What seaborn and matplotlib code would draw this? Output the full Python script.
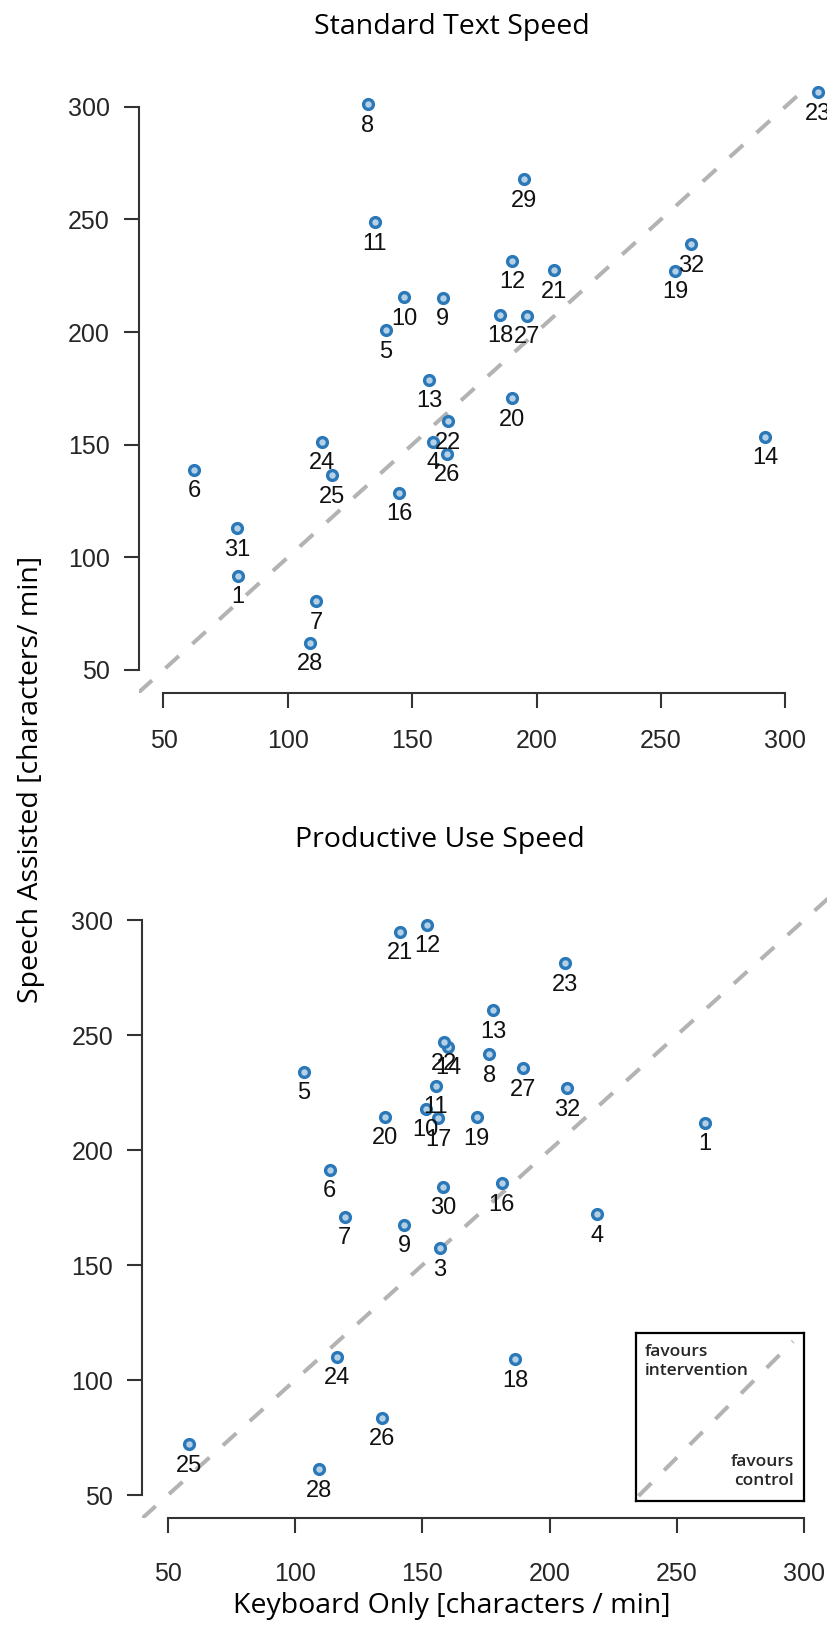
import numpy as np
import pandas as pd
import matplotlib
matplotlib.use('Agg')
import matplotlib.pyplot as plt
import seaborn as sns

sns.set_style('white')
plt.rcParams['font.family'] = ['Liberation Sans', 'DejaVu Sans']

# participant ids and speeds (characters / min)
top_ids = [1, 4, 5, 6, 7, 8, 9, 10, 11, 12, 13, 14, 16, 18, 19, 20, 21, 22,
           23, 24, 25, 26, 27, 28, 29, 31, 32]
top_keyboard = [79.9, 158.5, 139.5, 62.4, 111.3, 132.2, 162.3, 146.7, 134.9,
                190.2, 156.9, 291.8, 144.8, 185.3, 255.7, 190.0, 207.0, 164.3,
                313.3, 113.9, 117.7, 164.1, 196.0, 109.0, 194.9, 79.7, 262.1]
top_speech = [91.9, 151.3, 200.9, 138.9, 80.6, 301.1, 215.3, 215.4, 248.7,
              231.7, 178.8, 153.6, 128.6, 207.6, 227.2, 170.7, 227.5, 160.5,
              306.4, 151.2, 136.4, 145.9, 207.3, 62.1, 267.9, 112.9, 238.9]

bottom_ids = [1, 3, 4, 5, 6, 7, 8, 9, 10, 11, 12, 13, 14, 16, 17, 18, 19, 20,
              21, 22, 23, 24, 25, 26, 27, 28, 30, 32]
bottom_keyboard = [261.0, 156.9, 218.5, 103.6, 113.7, 119.5, 176.3, 142.8,
                   151.4, 155.2, 152.0, 177.9, 160.2, 181.2, 156.3, 186.4,
                   171.3, 135.3, 141.2, 158.5, 206.0, 116.6, 58.2, 134.2,
                   189.4, 109.4, 158.2, 206.9]
bottom_speech = [211.9, 157.3, 172.2, 234.1, 191.4, 171.1, 241.6, 167.6,
                 217.9, 228.0, 298.0, 260.9, 244.9, 185.6, 213.8, 109.1,
                 214.3, 214.5, 294.9, 246.9, 281.2, 110.2, 72.3, 83.7,
                 235.6, 61.3, 184.1, 226.9]

ticks = [50, 100, 150, 200, 250, 300]
axis_lim = (40, 310)
key_diag = [0.015, 0.935]

EDGE = '#2A78B8'
FILL = '#B4D0E6'
DASH = '#B3B3B3'
AXC = '#333333'
LABEL_FONT = ['Open Sans', 'DejaVu Sans']

W, H = 827, 1644
fig = plt.figure(figsize=(W / 100, H / 100), dpi=100)


def px_axes(left, top, right, bottom):
    return fig.add_axes([left / W, 1 - bottom / H, (right - left) / W, (bottom - top) / H])


def draw_panel(ax, ids, kb, sp, xpad):
    df = pd.DataFrame({'id': ids, 'keyboard': kb, 'speech': sp})
    ax.axline((0, 0), slope=1, color=DASH, lw=2.9, ls=(0, (4.5, 4.5)), zorder=1)
    sns.scatterplot(data=df, x='keyboard', y='speech', ax=ax, s=50,
                    color=FILL, edgecolor=EDGE, linewidth=2.4, zorder=3,
                    clip_on=False, legend=False)
    for _, r in df.iterrows():
        ax.annotate(str(int(r['id'])), (r['keyboard'], r['speech']),
                    xytext=(0, -15.5), textcoords='offset points',
                    ha='center', va='center', fontsize=17, color='#111111',
                    annotation_clip=False, zorder=4)
    ax.set_xlim(*axis_lim)
    ax.set_ylim(*axis_lim)
    ax.set_xticks(ticks)
    ax.set_yticks(ticks)
    ax.set_xlabel('')
    ax.set_ylabel('')
    for s in ['top', 'right']:
        ax.spines[s].set_visible(False)
    for s in ['left', 'bottom']:
        ax.spines[s].set_visible(True)
        ax.spines[s].set_bounds(50, 300)
        ax.spines[s].set_color(AXC)
        ax.spines[s].set_linewidth(1.5)
    ax.tick_params(axis='y', direction='out', length=10.8, width=1.5,
                   color=AXC, labelsize=18, pad=10, left=True)
    ax.tick_params(axis='x', direction='out', length=10.8, width=1.5,
                   color=AXC, labelsize=18, pad=xpad, bottom=True)
    ax.patch.set_alpha(0)


ax1 = px_axes(138.6, 84.2, 810.2, 692.5)
draw_panel(ax1, top_ids, top_keyboard, top_speech, 15.5)

ax2 = px_axes(142.2, 897.0, 829.7, 1518.3)
draw_panel(ax2, bottom_ids, bottom_keyboard, bottom_speech, 20.5)

# key box in the lower panel
key = px_axes(636, 1333, 804, 1501)
key.plot(key_diag, [v + 0.015 for v in key_diag], color=DASH, lw=2.9,
         ls=(0, (4.5, 4.5)))
key.set_xlim(0, 1)
key.set_ylim(0, 1)
key.set_xticks([])
key.set_yticks([])
for s in key.spines.values():
    s.set_visible(True)
    s.set_color('black')
    s.set_linewidth(1.6)
key.text(0.05, 0.83, 'favours\nintervention', transform=key.transAxes,
         ha='left', va='center', fontsize=12.5, family=LABEL_FONT,
         fontweight='semibold', linespacing=1.25)
key.text(0.94, 0.175, 'favours\ncontrol', transform=key.transAxes,
         ha='right', va='center', fontsize=12.5, family=LABEL_FONT,
         fontweight='semibold', linespacing=1.25)

fig.text(452 / W, 1 - 27 / H, 'Standard Text Speed', ha='center', va='center',
         fontsize=20.5, family=LABEL_FONT, color='black')
fig.text(440 / W, 1 - 840 / H, 'Productive Use Speed', ha='center', va='center',
         fontsize=20.5, family=LABEL_FONT, color='black')
fig.text(31 / W, 1 - 779 / H, 'Speech Assisted [characters/ min]', rotation=90,
         ha='center', va='center', fontsize=20.5, family=LABEL_FONT, color='black')
fig.text(452 / W, 1 - 1606 / H, 'Keyboard Only [characters / min]',
         ha='center', va='center', fontsize=20.5, family=LABEL_FONT, color='black')

fig.savefig('out.png', dpi=100)
